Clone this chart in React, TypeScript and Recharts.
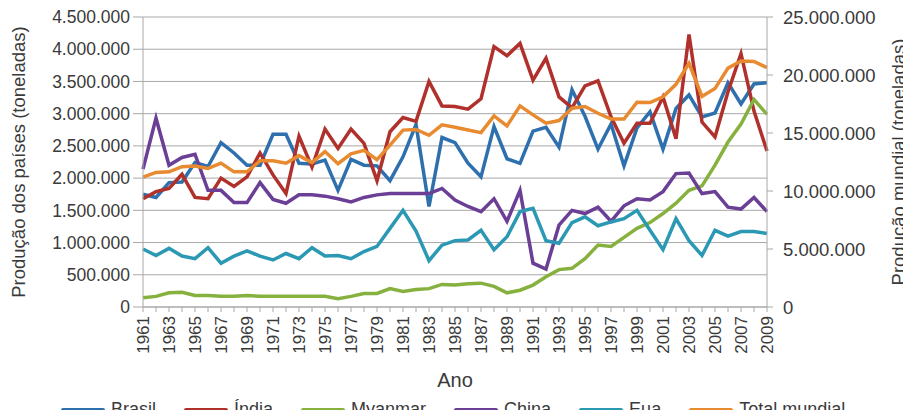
import { LineChart, Line, CartesianGrid, XAxis, YAxis } from 'recharts';

// values in millions of tonnes
const years = [
  '1961', '1962', '1963', '1964', '1965', '1966', '1967', '1968', '1969', '1970',
  '1971', '1972', '1973', '1974', '1975', '1976', '1977', '1978', '1979', '1980',
  '1981', '1982', '1983', '1984', '1985', '1986', '1987', '1988', '1989', '1990',
  '1991', '1992', '1993', '1994', '1995', '1996', '1997', '1998', '1999', '2000',
  '2001', '2002', '2003', '2004', '2005', '2006', '2007', '2008', '2009'
];

const brasil = [
  1.75, 1.7, 1.93, 1.94, 2.24, 2.18, 2.55, 2.39, 2.2, 2.2,
  2.68, 2.68, 2.23, 2.22, 2.28, 1.81, 2.29, 2.2, 2.19, 1.96,
  2.33, 2.83, 1.56, 2.63, 2.55, 2.23, 2.02, 2.8, 2.3, 2.23,
  2.73, 2.79, 2.48, 3.37, 2.96, 2.45, 2.84, 2.19, 2.78, 3.03,
  2.45, 3.08, 3.29, 2.95, 3.01, 3.48, 3.15, 3.46, 3.48
];

const india = [
  1.68, 1.79, 1.84, 2.06, 1.7, 1.68, 2.0, 1.87, 2.02, 2.39,
  2.05, 1.76, 2.65, 2.17, 2.76, 2.46, 2.76, 2.54, 1.96, 2.72,
  2.94, 2.88, 3.5, 3.12, 3.11, 3.07, 3.23, 4.04, 3.9, 4.09,
  3.52, 3.86, 3.26, 3.09, 3.43, 3.51, 2.95, 2.54, 2.85, 2.85,
  3.26, 2.61, 4.23, 2.87, 2.64, 3.34, 3.93, 3.04, 2.42
];

const myanmar = [
  0.145, 0.165, 0.22, 0.23, 0.18, 0.18, 0.165, 0.165, 0.18, 0.165,
  0.165, 0.165, 0.165, 0.165, 0.165, 0.13, 0.165, 0.21, 0.21, 0.285,
  0.24, 0.27, 0.285, 0.35, 0.34, 0.36, 0.37, 0.32, 0.22, 0.26,
  0.34, 0.47, 0.58, 0.6, 0.75, 0.96, 0.94, 1.08, 1.22, 1.31,
  1.45, 1.61, 1.81, 1.88, 2.2, 2.56, 2.84, 3.22, 2.99
];

const china = [
  2.14, 2.93, 2.2, 2.32, 2.37, 1.81, 1.81, 1.62, 1.62, 1.93,
  1.67, 1.61, 1.74, 1.74, 1.72, 1.68, 1.63, 1.7, 1.74, 1.76,
  1.76, 1.76, 1.76, 1.84, 1.66, 1.56, 1.48, 1.68, 1.33, 1.81,
  0.68, 0.59, 1.27, 1.5, 1.45, 1.55, 1.33, 1.57, 1.68, 1.66,
  1.79, 2.07, 2.08, 1.76, 1.79, 1.55, 1.52, 1.7, 1.48
];

const eua = [
  0.9, 0.8, 0.91, 0.79, 0.75, 0.92, 0.68, 0.79, 0.87, 0.79,
  0.73, 0.83, 0.75, 0.92, 0.79, 0.8, 0.75, 0.86, 0.94, 1.22,
  1.5, 1.18, 0.72, 0.96, 1.03, 1.04, 1.19, 0.89, 1.09, 1.48,
  1.53, 1.03, 0.99, 1.31, 1.4, 1.26, 1.32, 1.37, 1.5, 1.19,
  0.89, 1.37, 1.03, 0.8, 1.19, 1.1, 1.17, 1.17, 1.14
];

const totalMundial = [
  11.2, 11.6, 11.65, 12.1, 12.15, 11.95, 12.4, 11.65, 11.65, 12.6,
  12.6, 12.4, 13.05, 12.45, 13.4, 12.35, 13.2, 13.5, 12.7, 13.95,
  15.25, 15.3, 14.8, 15.7, 15.5, 15.26, 15.03, 16.47, 15.61, 17.34,
  16.56, 15.84, 16.07, 17.14, 17.28, 16.7, 16.2, 16.2, 17.65, 17.63,
  18.12, 19.2, 21.0, 18.15, 18.83, 20.59, 21.2, 21.17, 20.63
];

const leftTicks = [0, 0.5, 1, 1.5, 2, 2.5, 3, 3.5, 4, 4.5];
const rightTicks = [0, 5, 10, 15, 20, 25];

const series = [
  { key: 'brasil', name: 'Brasil', color: '#2e6fae', axis: 'left' },
  { key: 'india', name: 'Índia', color: '#b0302c', axis: 'left' },
  { key: 'myanmar', name: 'Myanmar', color: '#86b13f', axis: 'left' },
  { key: 'china', name: 'China', color: '#6a3f95', axis: 'left' },
  { key: 'eua', name: 'Eua', color: '#2b98b4', axis: 'left' },
  { key: 'total', name: 'Total mundial', color: '#e88a30', axis: 'right' }
];

const data = years.map((year, i) => ({
  year,
  brasil: brasil[i],
  india: india[i],
  myanmar: myanmar[i],
  china: china[i],
  eua: eua[i],
  total: totalMundial[i]
}));

const FONT = '"Liberation Sans", Arial, sans-serif';
const TEXT = '#3a3a3a';
const GRID = '#a8a8a8';

// 4.5 -> "4.500.000"
const fmt = (v: number) =>
  Math.round(v * 1e6).toString().replace(/\B(?=(\d{3})+(?!\d))/g, '.');

const YearTick = (props: any) => {
  const { x, y, payload, index } = props;
  if (index % 2 === 1) return <g />;
  const ty = y + 2;
  return (
    <text
      x={x}
      y={ty}
      transform={`rotate(-90, ${x}, ${ty})`}
      textAnchor="end"
      dy="0.35em"
      fontSize={17}
      fontFamily={FONT}
      fill={TEXT}
    >
      {payload.value}
    </text>
  );
};

function LegendRow() {
  return (
    <div
      style={{
        position: 'absolute',
        left: 61,
        top: 399,
        display: 'flex',
        alignItems: 'center',
        gap: 28,
        fontFamily: FONT,
        fontSize: 18,
        color: TEXT,
        whiteSpace: 'nowrap'
      }}
    >
      {series.map((s) => (
        <div key={s.key} style={{ display: 'flex', alignItems: 'center', gap: 6 }}>
          <span style={{ display: 'inline-block', width: 44, height: 4, background: s.color, borderRadius: 2 }} />
          <span>{s.name}</span>
        </div>
      ))}
    </div>
  );
}

export default function App() {
  return (
    <div style={{ position: 'relative', width: 911, height: 418, margin: -8, background: '#fff', overflow: 'hidden' }}>
      <LineChart width={911} height={418} data={data} margin={{ top: 17, right: 0, bottom: 26, left: 0 }}>
        <CartesianGrid yAxisId="left" vertical={false} stroke={GRID} />
        <XAxis
          dataKey="year"
          interval={0}
          height={85}
          tick={<YearTick />}
          tickSize={5}
          axisLine={{ stroke: GRID }}
          tickLine={{ stroke: GRID }}
          label={{ value: 'Ano', position: 'insideBottom', offset: 5, fontSize: 20, fontFamily: FONT, fill: TEXT }}
        />
        <YAxis
          yAxisId="left"
          width={143}
          domain={[0, 4.5]}
          ticks={leftTicks}
          interval={0}
          tickFormatter={fmt}
          tickSize={10}
          tickMargin={3}
          axisLine={{ stroke: GRID }}
          tickLine={{ stroke: GRID }}
          tick={{ fontSize: 17.5, fontFamily: FONT, fill: TEXT }}
          label={{
            value: 'Produção dos países (toneladas)',
            angle: -90,
            position: 'insideLeft',
            offset: 18,
            fontSize: 18.5,
            fontFamily: FONT,
            fill: TEXT,
            style: { textAnchor: 'middle' }
          }}
        />
        <YAxis
          yAxisId="right"
          orientation="right"
          width={144}
          domain={[0, 25]}
          ticks={rightTicks}
          interval={0}
          tickFormatter={fmt}
          tickSize={6}
          tickMargin={10}
          axisLine={{ stroke: GRID }}
          tickLine={{ stroke: GRID }}
          tick={{ fontSize: 18.5, fontFamily: FONT, fill: TEXT }}
          label={{
            value: 'Produção mundial (toneladas)',
            angle: -90,
            position: 'insideRight',
            offset: 13,
            fontSize: 18.5,
            fontFamily: FONT,
            fill: TEXT,
            style: { textAnchor: 'middle' }
          }}
        />
        {series.map((s) => (
          <Line
            key={s.key}
            yAxisId={s.axis}
            type="linear"
            dataKey={s.key}
            name={s.name}
            stroke={s.color}
            strokeWidth={3.5}
            dot={false}
            activeDot={false}
            isAnimationActive={false}
          />
        ))}
      </LineChart>
      <LegendRow />
    </div>
  );
}
